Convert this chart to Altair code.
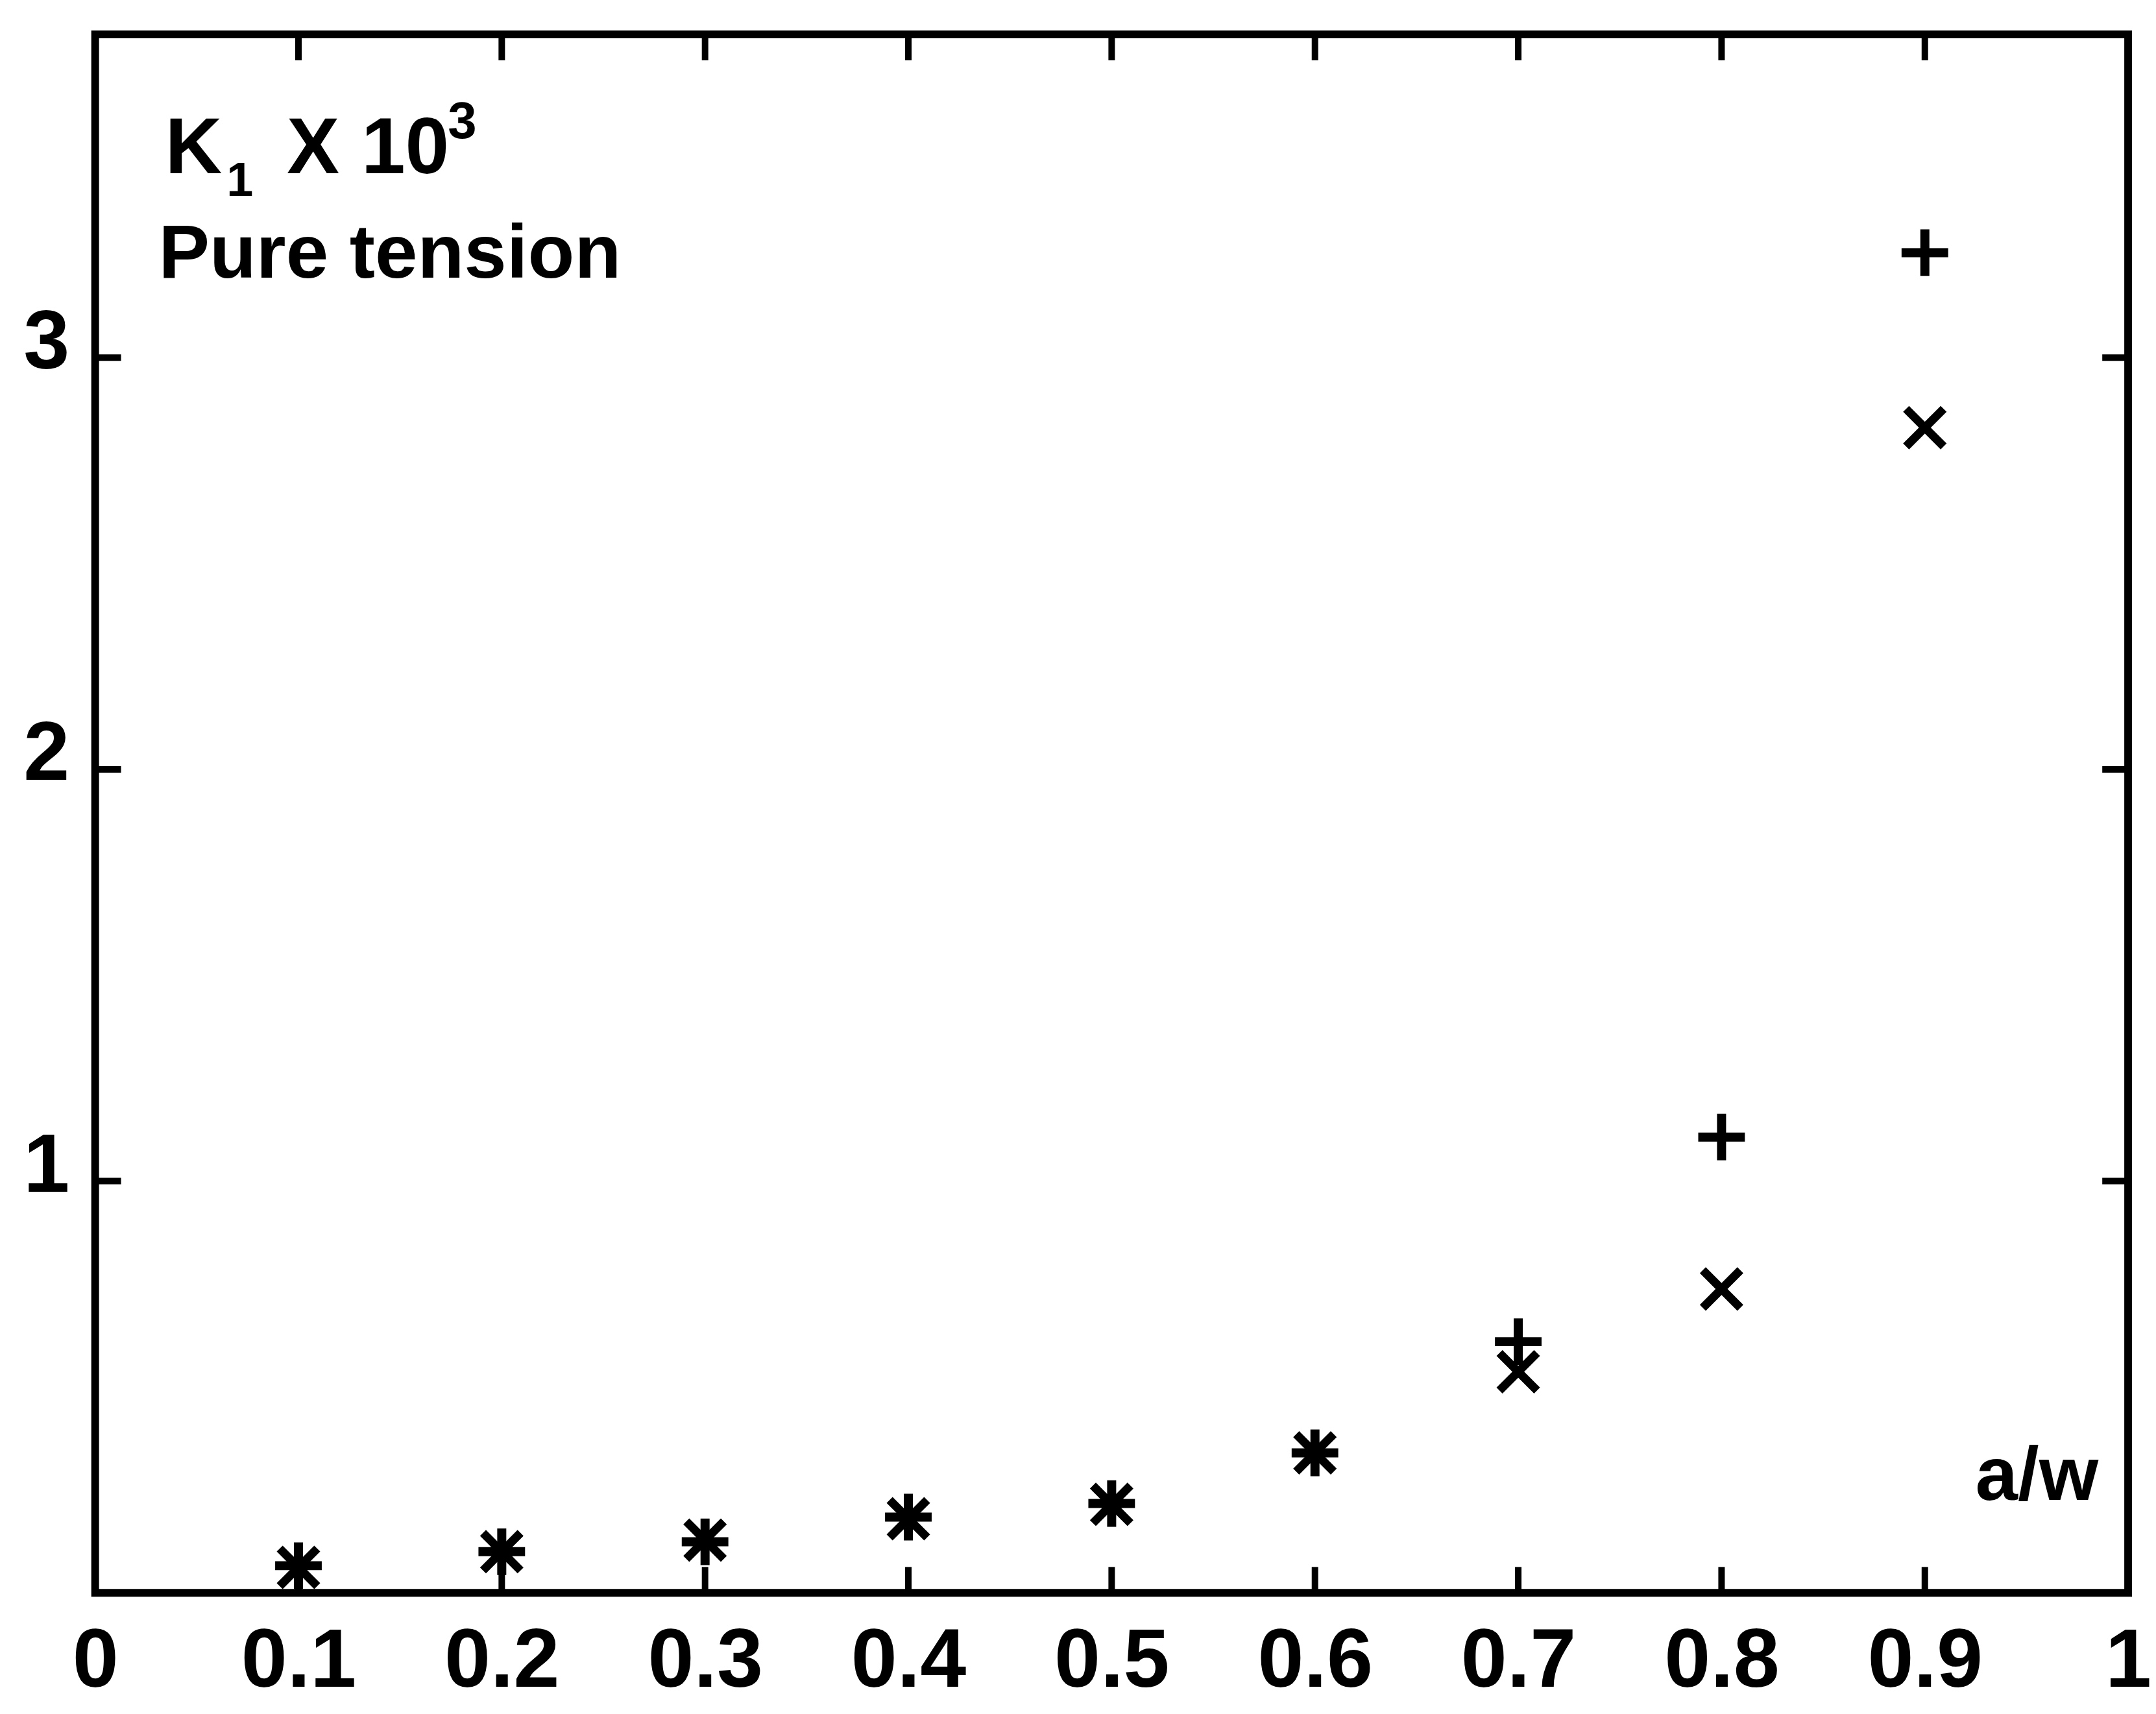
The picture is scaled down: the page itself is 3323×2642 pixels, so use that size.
import altair as alt
import pandas as pd

# ---- data ----
a_w = [0.1, 0.2, 0.3, 0.4, 0.5, 0.6, 0.7, 0.8, 0.9]
k_plus = [0.066, 0.100, 0.124, 0.184, 0.217, 0.340, 0.610, 1.107, 3.255]
k_cross = [0.062, 0.100, 0.128, 0.180, 0.215, 0.340, 0.537, 0.738, 2.830]

x_label_values = [0, 0.1, 0.2, 0.3, 0.4, 0.5, 0.6, 0.7, 0.8, 0.9, 1]
x_tick_values = [0.1, 0.2, 0.3, 0.4, 0.5, 0.6, 0.7, 0.8, 0.9]
y_tick_values = [1, 2, 3]

title_main = "K"
title_sub = "1"
title_mid = "X 10"
title_sup = "3"
subtitle = "Pure tension"
x_title = "a/w"

W, H = 3141, 2408
FONT = "Liberation Sans"
TICK = 40

pts = pd.DataFrame({"a_w": a_w, "plus": k_plus, "cross": k_cross})
xt = pd.DataFrame({"v": x_tick_values})
yt = pd.DataFrame({"v": y_tick_values})

xscale = alt.Scale(domain=[0, 1], nice=False, zero=False)
yscale = alt.Scale(domain=[0, 3.785], nice=False, zero=False)

PLUS = "M-1,0L1,0M0,-1L0,1"
CROSS = "M-1,-1L1,1M-1,1L1,-1"

base = alt.Chart(pts)

plus_layer = base.mark_point(shape=PLUS, filled=False, stroke="black",
                             strokeWidth=14, size=5184, opacity=1).encode(
    x=alt.X("a_w:Q", scale=xscale,
            axis=alt.Axis(values=x_label_values, format=".1~f", title=None,
                          grid=False, domain=False, ticks=False,
                          labelFont=FONT, labelFontSize=128, labelFontWeight="bold",
                          labelColor="black", labelPadding=44, labelFlush=False,
                          labelOverlap=False)),
    y=alt.Y("plus:Q", scale=yscale,
            axis=alt.Axis(values=y_tick_values, format="d", title=None,
                          grid=False, domain=False, ticks=False,
                          labelFont=FONT, labelFontSize=128, labelFontWeight="bold",
                          labelColor="black", labelPadding=40, labelOffset=-22,
                          labelOverlap=False)),
)

cross_layer = base.mark_point(shape=CROSS, filled=False, stroke="black",
                              strokeWidth=13, size=3364, opacity=1).encode(
    x=alt.X("a_w:Q", scale=xscale),
    y=alt.Y("cross:Q", scale=yscale),
)

rule_style = dict(color="black", strokeWidth=10)
bottom_ticks = alt.Chart(xt).mark_rule(**rule_style).encode(
    x=alt.X("v:Q", scale=xscale), y=alt.value(H), y2=alt.value(H - TICK))
top_ticks = alt.Chart(xt).mark_rule(**rule_style).encode(
    x=alt.X("v:Q", scale=xscale), y=alt.value(0), y2=alt.value(TICK))
left_ticks = alt.Chart(yt).mark_rule(**rule_style).encode(
    y=alt.Y("v:Q", scale=yscale), x=alt.value(0), x2=alt.value(TICK))
right_ticks = alt.Chart(yt).mark_rule(**rule_style).encode(
    y=alt.Y("v:Q", scale=yscale), x=alt.value(W), x2=alt.value(W - TICK))


def label(txt, px, py, size, align="left"):
    return alt.Chart(pd.DataFrame({"t": [txt]})).mark_text(
        align=align, baseline="alphabetic", font=FONT, fontSize=size,
        fontWeight="bold", color="black").encode(
        text="t:N", x=alt.value(px), y=alt.value(py))


texts = [
    label(title_main, 108, 214, 122),
    label(title_sub, 203, 250, 74),
    label(title_mid, 296, 214, 122),
    label(title_sup, 545, 160, 80),
    label(subtitle, 98, 376, 118),
    label(x_title, 3095, 2264, 118, align="right"),
]

chart = alt.layer(plus_layer, cross_layer, bottom_ticks, top_ticks,
                  left_ticks, right_ticks, *texts).properties(
    width=W, height=H,
    autosize=alt.AutoSizeParams(type="none"),
    padding={"left": 139, "top": 42, "right": 35, "bottom": 184},
    background="white",
).configure_view(stroke="black", strokeWidth=12)

chart.save("out.html", embed_options={"renderer": "svg", "actions": False})
